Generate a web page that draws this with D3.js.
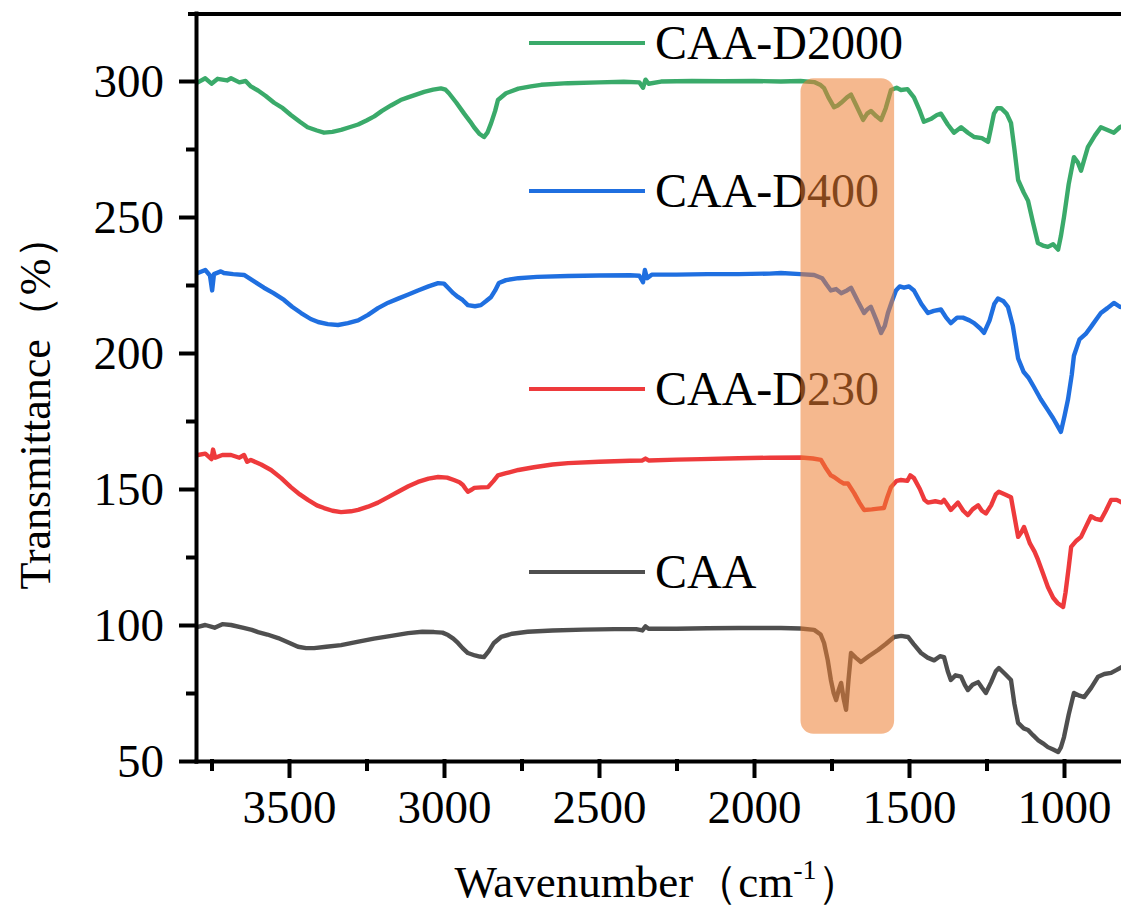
<!DOCTYPE html>
<html>
<head>
<meta charset="utf-8">
<script src="https://cdn.jsdelivr.net/npm/d3@7"></script>
<style>
  html, body { margin: 0; padding: 0; background: #fff; }
  svg { display: block; }
</style>
</head>
<body>
<div id="chart"></div>
<script>
// FTIR spectra, values: [wavenumber, transmittance]
const caaD2000 = [[3794,299.5],[3770,301],[3750,299],[3730,300.8],[3700,300.2],[3687,301],[3660,299.5],[3640,300],[3623,298],[3600,296.5],[3575,294.5],[3548,292],[3520,290],[3494,287.5],[3465,285],[3440,283],[3410,281.8],[3387,281],[3360,281.3],[3332,282],[3305,283],[3277,284],[3250,285.5],[3225,287],[3200,289],[3171,291],[3140,293],[3116,294],[3090,295],[3064,296],[3035,296.8],[3010,297.3],[2995,296.8],[2984,295.5],[2960,292],[2935,288],[2915,285],[2903,283],[2885,280.5],[2871,279.4],[2860,281],[2848,284.5],[2835,289],[2826,293],[2800,295.5],[2760,297.2],[2720,298],[2687,298.6],[2600,299.2],[2500,299.5],[2420,299.7],[2370,299.5],[2358,297.5],[2350,300.5],[2340,299],[2300,299.8],[2200,300],[2100,299.9],[2000,300],[1913,299.8],[1850,300],[1806,299.6],[1785,298.5],[1774,297.4],[1760,294],[1742,290.4],[1730,291],[1719,292],[1700,294],[1687,295],[1670,291],[1648,285.7],[1635,288],[1623,289],[1605,287],[1590,285.7],[1575,290],[1558,296.7],[1540,297.5],[1526,296.7],[1505,297],[1484,294],[1465,289],[1452,285],[1430,286],[1410,287.5],[1397,288],[1375,284],[1355,281],[1332,283],[1310,281],[1290,279.4],[1265,279],[1245,277.6],[1235,283],[1226,288],[1215,290],[1203,290],[1185,288],[1171,284.6],[1160,275],[1148,263.6],[1130,259],[1116,256],[1100,248],[1084,240.4],[1068,239.5],[1052,239],[1035,240],[1019,238],[1010,243],[1000,250],[985,262],[968,272],[955,270],[945,267],[935,271],[923,275.7],[900,280],[881,283],[860,282],[839,281],[820,283],[800,284]];

const caaD400 = [[3794,229.4],[3770,230.5],[3755,228.5],[3748,223],[3742,229],[3720,230],[3710,229.4],[3680,229],[3645,228.7],[3615,226.5],[3581,224],[3550,222],[3516,219.5],[3490,217],[3461,214.7],[3430,212.5],[3406,211.4],[3375,210.6],[3342,210.3],[3310,211],[3277,212],[3245,214],[3213,216.5],[3180,218.5],[3148,220],[3115,221.5],[3084,223],[3050,224.5],[3019,225.7],[3000,225.5],[2987,224],[2970,222],[2955,220.6],[2940,219.5],[2923,217.6],[2900,217.2],[2881,217.6],[2865,219],[2848,220.6],[2835,223],[2823,225.7],[2800,226.8],[2760,227.5],[2700,228],[2600,228.3],[2500,228.5],[2400,228.6],[2370,228.4],[2358,226],[2352,230.5],[2345,227.5],[2330,228.8],[2250,228.8],[2150,229],[2050,229],[1950,229.2],[1913,229.4],[1850,229],[1806,228.7],[1780,227.5],[1765,225],[1752,223],[1735,223.5],[1719,222],[1700,223],[1687,224],[1665,219],[1645,214.7],[1635,216],[1623,217],[1605,212],[1590,207.4],[1578,210],[1568,214.7],[1555,219],[1542,223],[1530,224.5],[1516,224],[1500,224.5],[1484,223],[1460,218],[1439,214.7],[1420,215.5],[1397,216],[1380,213],[1365,211],[1345,213],[1326,213],[1305,212],[1290,211],[1270,209],[1258,207.4],[1240,212],[1225,218],[1213,220],[1195,219],[1181,217],[1165,210],[1148,198],[1130,193],[1115,191],[1097,187.5],[1075,183],[1052,179],[1035,176],[1020,173],[1010,171],[998,177],[987,183],[975,192],[968,199],[950,205],[930,207],[913,209.6],[895,212.5],[881,214.7],[860,216.5],[839,218.4],[820,217],[800,216.5]];

const caaD230 = [[3794,162.5],[3770,163],[3750,161],[3745,164.5],[3738,161.5],[3715,162.5],[3687,162.5],[3660,161.5],[3645,162.5],[3635,160],[3623,160.7],[3590,159],[3558,157],[3525,154],[3494,150.7],[3465,148],[3439,146],[3410,144],[3387,143],[3360,142],[3332,141.5],[3300,141.8],[3277,142.3],[3245,143.5],[3213,145],[3180,147],[3148,149],[3115,151],[3084,152.6],[3050,153.8],[3019,154.4],[2990,154.2],[2968,153.3],[2950,152.5],[2939,151.5],[2930,150],[2923,149],[2910,149.8],[2903,150.4],[2880,150.6],[2858,150.7],[2840,153],[2826,155],[2800,155.8],[2760,157],[2710,158],[2650,159],[2600,159.5],[2500,160],[2400,160.4],[2360,160.5],[2350,161.2],[2340,160.5],[2250,160.8],[2171,161],[2050,161.3],[1950,161.5],[1848,161.6],[1810,161.2],[1784,160.7],[1770,158],[1752,155],[1742,154.4],[1725,153],[1710,152],[1697,152],[1677,148.5],[1660,145],[1645,142.3],[1620,142.5],[1600,142.8],[1581,143],[1570,147],[1558,150.7],[1540,153],[1526,153.3],[1505,153],[1496,155],[1484,154],[1465,150],[1450,146],[1439,145],[1415,145.5],[1395,145],[1387,146],[1375,144],[1365,142.3],[1355,143.5],[1342,145],[1325,142],[1310,140.4],[1295,142.5],[1277,144],[1265,142],[1252,141],[1235,144],[1220,148],[1210,149],[1190,148],[1171,147],[1160,140],[1148,132.4],[1138,134],[1129,136],[1110,130],[1095,127],[1084,124],[1068,119],[1052,114],[1035,110],[1020,108],[1003,106.6],[995,112],[985,121],[977,128.7],[960,131],[945,132.4],[930,136],[913,140],[898,139],[881,138.6],[865,142],[848,146],[830,146],[813,145],[800,145.5]];

const caa = [[3794,99.3],[3770,100],[3740,99],[3715,100.3],[3687,100],[3650,99],[3620,98.2],[3600,97.4],[3570,96.5],[3535,95.2],[3500,93.5],[3471,92],[3445,91.5],[3419,91.5],[3380,92],[3332,92.6],[3280,93.8],[3226,95],[3170,96],[3116,97],[3070,97.5],[3032,97.4],[3005,97.2],[2987,96.3],[2970,95],[2955,93.4],[2940,91.5],[2923,89.7],[2900,88.8],[2885,88.4],[2871,88.2],[2855,90.5],[2839,93.4],[2816,95.6],[2780,96.8],[2730,97.5],[2650,98],[2550,98.3],[2450,98.5],[2380,98.5],[2360,98],[2350,99.5],[2340,98.6],[2250,98.6],[2150,98.8],[2050,98.9],[1950,98.9],[1913,98.9],[1850,98.7],[1806,98.2],[1785,96.5],[1774,93.4],[1762,87],[1752,79.8],[1743,75],[1735,72.4],[1727,76],[1719,78.7],[1711,73],[1703,68.8],[1695,80],[1687,89.7],[1672,88],[1655,86.4],[1630,88.5],[1600,90.8],[1575,93],[1548,95.6],[1525,96],[1503,95.6],[1485,93],[1461,89.7],[1440,88],[1419,87],[1400,88.5],[1387,88.2],[1375,83],[1365,79.8],[1350,81.5],[1332,81],[1320,78],[1310,76.1],[1295,78],[1277,79],[1265,77],[1252,75],[1235,79],[1220,83],[1210,84.2],[1190,82],[1171,79.8],[1160,71],[1148,64],[1130,62],[1116,61.4],[1100,59.5],[1084,57.7],[1068,56.5],[1052,55.1],[1035,54.2],[1019,53.3],[1010,55],[1000,58.8],[985,67],[968,75],[950,74],[935,73.5],[912,77],[890,81],[870,82],[848,82.4],[830,83.5],[813,84.6],[800,85]];

const seriesNames = ['CAA-D2000', 'CAA-D400', 'CAA-D230', 'CAA'];
const seriesData = [caaD2000, caaD400, caaD230, caa];
const seriesColors = ['#3aaa6a', '#1f6fe0', '#ee3a3c', '#4f4f4f'];

const xTicks = [3500, 3000, 2500, 2000, 1500, 1000];
const xMinorTicks = [3750, 3250, 2750, 2250, 1750, 1250];
const yTicks = [50, 100, 150, 200, 250, 300];
const yMinorTicks = [75, 125, 175, 225, 275];

// highlighted band (wavenumber range, transmittance range)
const band = {from: 1850, to: 1548, top: 301, bottom: 60};

const width = 1121, height = 914;
const legendY = [43, 191, 389, 572]; // pixel rows of the legend entries
const font = '"Liberation Serif", "Times New Roman", "DejaVu Serif", serif';

const x = d3.scaleLinear().domain([3800, 800]).range([196, 1126]);
const y = d3.scaleLinear().domain([50, 325]).range([761, 13]);

const svg = d3.select('#chart').append('svg')
  .attr('width', width)
  .attr('height', height)
  .attr('viewBox', [0, 0, width, height])
  .attr('font-family', font);

const line = d3.line()
  .x(d => x(d[0]))
  .y(d => y(d[1]));

// spectra
svg.append('g')
  .attr('fill', 'none')
  .attr('stroke-width', 4.4)
  .attr('stroke-linejoin', 'round')
  .attr('stroke-linecap', 'round')
  .selectAll('path')
  .data(seriesData)
  .join('path')
  .attr('stroke', (d, i) => seriesColors[i])
  .attr('d', line);

// legend
const legend = svg.append('g')
  .selectAll('g')
  .data(seriesNames)
  .join('g')
  .attr('transform', (d, i) => `translate(529,${legendY[i]})`);

legend.append('line')
  .attr('x1', 0).attr('x2', 116)
  .attr('stroke', (d, i) => seriesColors[i])
  .attr('stroke-width', 4);

legend.append('text')
  .attr('x', 126)
  .attr('y', 16)
  .attr('font-family', font)
  .attr('font-size', 48)
  .attr('fill', '#000')
  .text(d => d);

// orange band, drawn over lines and labels
svg.append('rect')
  .attr('x', x(band.from))
  .attr('y', y(band.top))
  .attr('width', x(band.to) - x(band.from))
  .attr('height', y(band.bottom) - y(band.top))
  .attr('rx', 13)
  .attr('fill', '#ED7D31')
  .attr('fill-opacity', 0.55);

// axes
svg.append('g')
  .attr('transform', `translate(${x(3800)},0)`)
  .call(d3.axisLeft(y).tickValues(yTicks).tickFormat(d3.format('d'))
    .tickSize(15).tickSizeOuter(0).tickPadding(17));

svg.append('g')
  .attr('transform', `translate(${x(3800)},0)`)
  .call(d3.axisLeft(y).tickValues(yMinorTicks).tickSize(8).tickFormat(''))
  .call(g => g.select('.domain').remove());

svg.append('g')
  .attr('transform', `translate(0,${y(50)})`)
  .call(d3.axisBottom(x).tickValues(xTicks).tickFormat(d3.format('d'))
    .tickSize(15).tickSizeOuter(0).tickPadding(14));

svg.append('g')
  .attr('transform', `translate(0,${y(50)})`)
  .call(d3.axisBottom(x).tickValues(xMinorTicks).tickSize(8).tickFormat(''))
  .call(g => g.select('.domain').remove());

svg.selectAll('.domain, .tick line')
  .attr('stroke', '#000')
  .attr('stroke-width', 4)
  .attr('stroke-linecap', 'square');

svg.selectAll('g[font-family]').attr('font-family', font);
svg.selectAll('.tick text')
  .attr('font-size', 47)
  .attr('fill', '#000');

// top frame line
svg.append('line')
  .attr('x1', 188).attr('x2', width)
  .attr('y1', y(325) + 1).attr('y2', y(325) + 1)
  .attr('stroke', '#000')
  .attr('stroke-width', 4);

// axis titles
const xTitle = svg.append('text')
  .attr('x', 658)
  .attr('y', 897)
  .attr('text-anchor', 'middle')
  .attr('font-family', font)
  .attr('font-size', 45)
  .attr('fill', '#000');
xTitle.append('tspan').text('Wavenumber（cm');
xTitle.append('tspan').attr('font-size', 28).attr('dy', -18).text('-1');
xTitle.append('tspan').attr('dy', 18).text('）');

svg.append('text')
  .attr('transform', 'translate(50,402) rotate(-90)')
  .attr('text-anchor', 'middle')
  .attr('font-family', font)
  .attr('font-size', 44)
  .attr('fill', '#000')
  .text('Transmittance（%）');
</script>
</body>
</html>
